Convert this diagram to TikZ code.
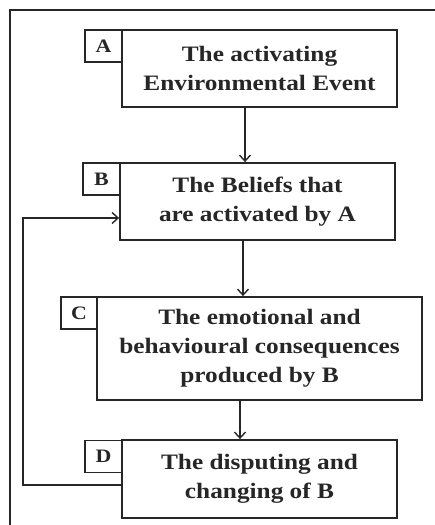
\documentclass[tikz,border=0pt]{standalone}
\usepackage{fontspec}
\setmainfont[FakeStretch=1.15]{Liberation Serif}
\usetikzlibrary{arrows.meta}
\begin{document}
\begin{tikzpicture}[x=1pt,y=-1pt,
  mainbox/.style={draw=black!85, line width=1.8pt, fill=white, align=center,
    inner sep=0pt, font=\fontsize{22}{29}\selectfont\bfseries, text=black!85},
  tagbox/.style={draw=black!85, line width=1.8pt, fill=white, inner sep=0pt,
    minimum width=37pt, minimum height=32pt, font=\fontsize{19}{20}\selectfont\bfseries, text=black!85},
  flow/.style={draw=black!85, line width=1.4pt, -{Straight Barb[length=6pt,width=11pt,line width=1.4pt]}}]
\useasboundingbox (0,0) rectangle (435,525);
% outer frame
\draw[black!85, line width=1.8pt] (10,540) -- (10,10) -- (450,10);
% stage boxes
\node[mainbox, minimum width=275pt, minimum height=77pt] (A) at (259.5,68.5)
  {The activating\\Environmental Event};
\node[tagbox] (tA) at (103.5,46) {A};
\node[mainbox, minimum width=275pt, minimum height=77pt] (B) at (257.5,201.5)
  {The Beliefs that\\are activated by A};
\node[tagbox] (tB) at (101.5,179) {B};
\node[mainbox, minimum width=325pt, minimum height=103pt] (C) at (259.5,348.5)
  {The emotional and\\behavioural consequences\\produced by B};
\node[tagbox, minimum width=36pt] (tC) at (79,313) {C};
\node[mainbox, minimum width=275pt, minimum height=78pt] (D) at (259.5,479)
  {The disputing and\\changing of B};
\node[tagbox] (tD) at (103.5,456.5) {D};
% connectors
\draw[flow] ([xshift=-14.5pt]A.south) -- ([xshift=-14.5pt]A.south |- B.north);
\draw[flow] ([xshift=-14.5pt]B.south) -- ([xshift=-14.5pt]B.south |- C.north);
\draw[flow] ([xshift=-19.5pt]C.south) -- ([xshift=-19.5pt]C.south |- D.north);
\coordinate (loop) at (23,485);
\draw[flow] ([yshift=-6pt]D.west) -- (loop) |- ([yshift=-16.5pt]B.west);
\end{tikzpicture}
\end{document}
